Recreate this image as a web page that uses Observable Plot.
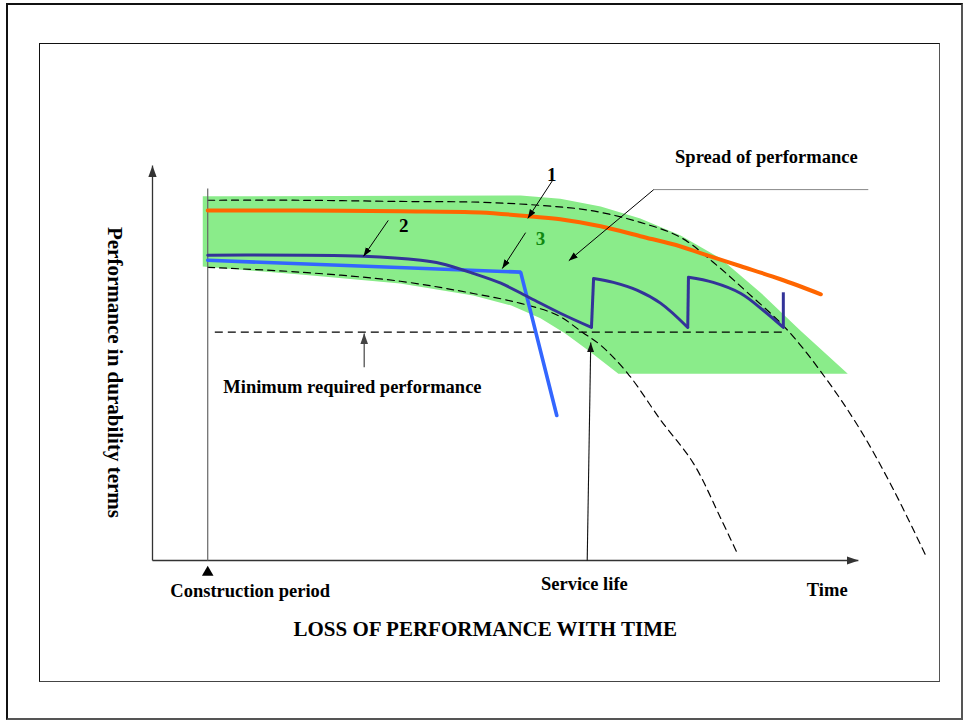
<!DOCTYPE html>
<html><head><meta charset="utf-8">
<script src="https://cdn.jsdelivr.net/npm/d3@7"></script>
<script src="https://cdn.jsdelivr.net/npm/@observablehq/plot@0.6"></script>
<style>
html,body{margin:0;padding:0;background:#fff;}
#wrap{position:relative;width:964px;height:721px;overflow:hidden;background:#fff;}
#chart{position:absolute;left:0;top:0;}
.frame{position:absolute;box-sizing:border-box;pointer-events:none;}
#outer{left:6px;top:3px;width:957px;height:717px;border:2px solid #111;border-right-color:#555;border-bottom-color:#555;}
#inner{left:39px;top:43px;width:901px;height:639px;border:1.5px solid #111;border-right-color:#555;border-bottom-color:#444;}
</style></head><body>
<div id="wrap"><div id="chart"></div><div class="frame" id="outer"></div><div class="frame" id="inner"></div></div>
<script>
// ---- data: time t (0–100 along the time axis), performance p (0–100) ----
const construction = 7.8;
const serviceLife = [[61.4, 0], [61.9, 55.2]];
const minPerformance = 57.8;
const minPerformanceSpan = [8.8, 89.3];

// upper (outer) limit of spread, dashed
const upperLimit = [[7.8,91.2],[20.9,91.2],[35.0,90.9],[46.3,90.7],[54.8,89.9],[61.9,88.6],[68.9,85.6],[74.6,81.8],[79.2,75.5],[84.0,67.9],[89.7,58.3],[95.3,45.6],[100,33.0],[104.7,17.8],[109.2,1.3]];
// lower (inner) limit of spread, dashed
const lowerLimit = [[7.8,74.2],[20.9,73.0],[35.0,70.7],[45.3,67.6],[52.0,65.1],[57.2,62.1],[60.7,57.8],[63.3,54.5],[67.1,47.4],[71.8,35.5],[76.4,24.6],[80.2,10.9],[82.6,1.8]];
// shaded spread of performance (outline)
const spreadBand = [[7.1,92.2],[50.1,92.4],[52.0,92.4],[57.6,91.6],[63.3,89.6],[68.9,86.6],[74.6,82.3],[80.2,76.5],[85.9,67.8],[91.5,58.2],[98.2,47.3],[65.8,47.3],[61.9,52.7],[58.3,57.5],[54.8,61.3],[50.6,64.6],[45.3,67.1],[35.0,70.1],[20.9,72.4],[7.1,74.4]];
// curve 1 (orange)
const curve1 = [[7.8,88.6],[20.9,88.6],[35.0,88.4],[46.3,88.1],[53.4,87.1],[57.6,86.4],[63.3,84.6],[68.9,82.1],[74.6,79.5],[77.4,77.8],[83.1,74.5],[88.7,71.2],[94.4,67.4]];
// curve 2 (dark blue, with repairs) : [segment, t, p]
const curve2 = [
  [1,7.8,77.3],[1,29.8,77.0],[1,37.9,76.0],[1,40.7,75.2],[1,45.3,72.7],[1,49.2,70.2],[1,53.4,66.4],[1,57.6,62.6],[1,62.0,59.0],
  [2,62.3,71.4],[2,65.1,70.4],[2,68.5,68.4],[2,71.8,65.1],[2,75.6,59.0],
  [3,75.7,71.7],[3,79.2,70.4],[3,83.1,67.6],[3,86.3,63.3],[3,89.1,59.0],
  [4,89.1,67.9]
];
// curve 3 (light blue, sudden failure)
const curve3 = [[7.8,76.0],[52.0,73.0],[57.1,36.7]];

// pointer arrows [t1,p1,t2,p2]
const pointerArrows = [[56.5,96.2,53.0,86.6],[33.3,86.1,29.8,77.0],[52.7,83.0,49.4,73.9],[70.8,93.9,58.8,75.9]];
const spreadLeader = [[101.1,93.9,70.8,93.9]];
const minArrow = [[29.9,48.9,29.9,57.5]];
const axesLines = [[0,0,0,100],[0,0,99.7,0]];

const labels = [
  {text:"Construction period", t:13.8, p:-7.8},
  {text:"Service life", t:61.0, p:-5.9},
  {text:"Time", t:95.3, p:-7.6},
  {text:"Spread of performance", t:86.7, p:102.1}
];
const minLabel = [{text:"Minimum required performance", t:10.0, p:43.8}];
const titleLabel = [{text:"LOSS OF PERFORMANCE WITH TIME", t:47.0, p:-17.5}];
const yLabel = [{text:"Performance in durability terms", t:-5.3, p:47.6}];
const curveNumbers = [{text:"1", t:56.4, p:97.7},{text:"2", t:35.5, p:84.7}];
const curveNumberGreen = [{text:"3", t:54.8, p:81.3}];

// ---- build ----
const pts = a => a.map(([t,p]) => ({t,p}));
const seg = a => a.map(([t1,p1,t2,p2]) => ({t1,p1,t2,p2}));
const c2 = curve2.map(([s,t,p]) => ({s,t,p}));
const c2Smooth = c2.filter(d => d.s < 4);
const jumps = [];
for (let s = 1; s < 4; s++) {
  const a = c2.filter(d => d.s === s), b = c2.filter(d => d.s === s + 1);
  jumps.push({t1:a[a.length-1].t, p1:a[a.length-1].p, t2:b[0].t, p2:b[0].p});
}
const linkOpts = (extra) => Object.assign({x1:"t1", y1:"p1", x2:"t2", y2:"p2"}, extra);
const font = "Liberation Serif, Times New Roman, serif";

const plot = Plot.plot({
  width: 964, height: 721,
  marginLeft: 152, marginRight: 104, marginTop: 165, marginBottom: 161,
  x: {domain: [0, 100], axis: null},
  y: {domain: [0, 100], axis: null},
  style: {background: "transparent", fontFamily: font, overflow: "visible"},
  marks: [
    Plot.line(pts(spreadBand), {x:"t", y:"p", fill:"#8aec8a", stroke:"none", curve:"linear-closed"}),
    Plot.line(pts(upperLimit), {x:"t", y:"p", stroke:"#000", strokeWidth:1.2, strokeDasharray:"7,5", curve:"catmull-rom"}),
    Plot.line(pts(lowerLimit), {x:"t", y:"p", stroke:"#000", strokeWidth:1.2, strokeDasharray:"7,5", curve:"catmull-rom"}),
    Plot.link([{t1:minPerformanceSpan[0], p1:minPerformance, t2:minPerformanceSpan[1], p2:minPerformance}], linkOpts({stroke:"#000", strokeWidth:1.2, strokeDasharray:"8,5"})),
    // axes
    Plot.link(seg(axesLines), linkOpts({stroke:"#333", strokeWidth:1.3, markerEnd:"arrow"})),
    Plot.link([{t1:construction, p1:0, t2:construction, p2:94.2}], linkOpts({stroke:"#666", strokeWidth:1.2})),
    Plot.dot([{t:construction, p:-3.0}], {x:"t", y:"p", symbol:"triangle", r:4.3, fill:"#000", stroke:"none"}),
    Plot.link([{t1:serviceLife[0][0], p1:serviceLife[0][1], t2:serviceLife[1][0], p2:serviceLife[1][1]}], linkOpts({stroke:"#111", strokeWidth:1.1, markerEnd:"arrow"})),
    // curves
    Plot.line(pts(curve3), {x:"t", y:"p", stroke:"#3366ff", strokeWidth:3.6, strokeLinejoin:"miter"}),
    Plot.line(c2Smooth, {x:"t", y:"p", z:"s", stroke:"#333399", strokeWidth:3, curve:"catmull-rom"}),
    Plot.link(jumps, linkOpts({stroke:"#333399", strokeWidth:3})),
    Plot.line(pts(curve1), {x:"t", y:"p", stroke:"#ff6600", strokeWidth:4, curve:"catmull-rom"}),
    // pointers
    Plot.link(seg(spreadLeader), linkOpts({stroke:"#888", strokeWidth:1})),
    Plot.link(seg(pointerArrows), linkOpts({stroke:"#000", strokeWidth:1, markerEnd:"arrow"})),
    Plot.link(seg(minArrow), linkOpts({stroke:"#444", strokeWidth:1.2, markerEnd:"arrow"})),
    // text
    Plot.text(labels, {x:"t", y:"p", text:"text", fontSize:18.5, fontWeight:"bold", fontFamily:font, fill:"#000"}),
    Plot.text(minLabel, {x:"t", y:"p", text:"text", fontSize:18.5, fontWeight:"bold", fontFamily:font, fill:"#000", textAnchor:"start"}),
    Plot.text(titleLabel, {x:"t", y:"p", text:"text", fontSize:21, fontWeight:"bold", fontFamily:font, fill:"#000"}),
    Plot.text(yLabel, {x:"t", y:"p", text:"text", fontSize:21, fontWeight:"bold", fontFamily:font, fill:"#000", rotate:90}),
    Plot.text(curveNumbers, {x:"t", y:"p", text:"text", fontSize:19, fontWeight:"bold", fontFamily:font, fill:"#000"}),
    Plot.text(curveNumberGreen, {x:"t", y:"p", text:"text", fontSize:19, fontWeight:"bold", fontFamily:font, fill:"#118811"})
  ]
});

// filled arrowheads
plot.querySelectorAll("marker").forEach(m => {
  const p0 = m.querySelector("path");
  const c = m.getAttribute("stroke") || (p0 && p0.getAttribute("stroke")) || "#000";
  m.setAttribute("viewBox", "-10 -5 10 10");
  m.setAttribute("markerWidth", "9");
  m.setAttribute("markerHeight", "9");
  m.setAttribute("refX", "0");
  m.setAttribute("refY", "0");
  m.setAttribute("fill", c);
  m.setAttribute("stroke", "none");
  m.innerHTML = '<path d="M-10,-3.6L0,0L-10,3.6Z"></path>';
});

document.getElementById("chart").appendChild(plot);
</script>
</body></html>
